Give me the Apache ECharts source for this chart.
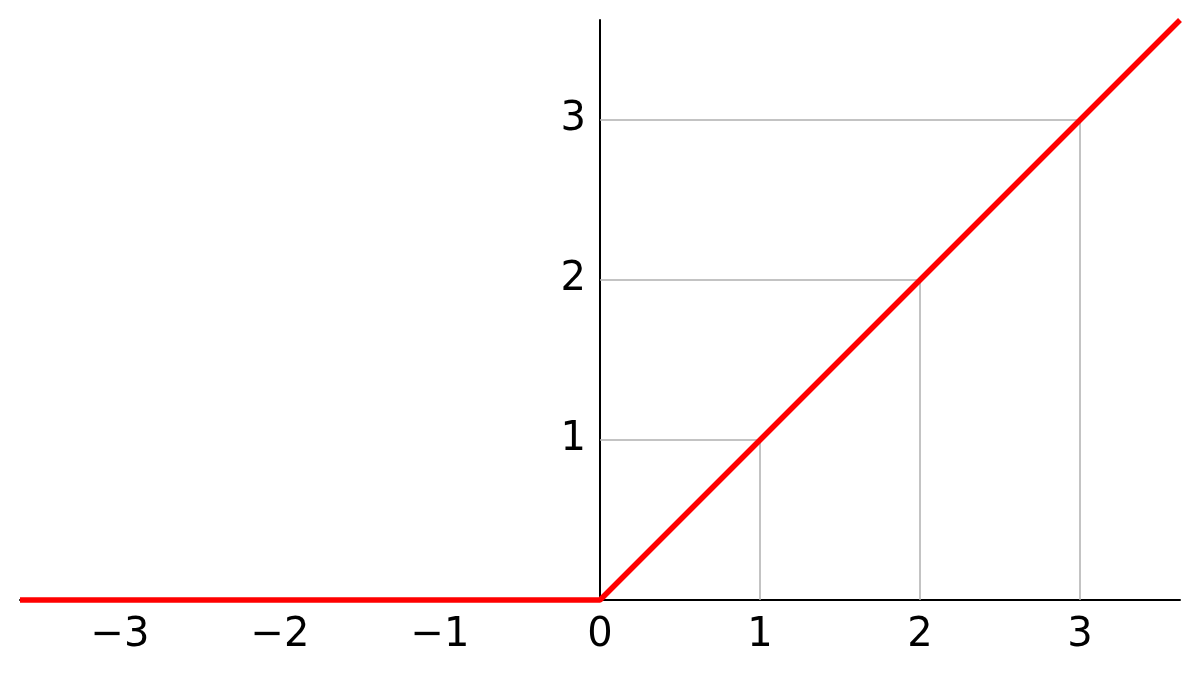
<!DOCTYPE html>
<html>
<head>
<meta charset="utf-8">
<style>html,body{margin:0;padding:0;background:#fff;}#c{width:1200px;height:680px;}</style>
<script src="https://cdn.jsdelivr.net/npm/echarts@6/dist/echarts.min.js"></script>
</head>
<body>
<div id="c"></div>
<script>
const reluX = [-3.625, 0, 3.625];
const reluY = [0, 0, 3.625];
const xTicks = [-3, -2, -1, 0, 1, 2, 3];
const yTicks = [1, 2, 3];
const dropPoints = [1, 2, 3];

const chart = echarts.init(document.getElementById('c'), null, {renderer: 'canvas'});
const font = {fontFamily: 'DejaVu Sans', fontSize: 40, color: '#000'};
const minus = v => String(v).replace('-', '\u2212');

const dropSeries = dropPoints.map(k => ({
  type: 'line',
  data: [[0, k], [k, k], [k, 0]],
  symbol: 'none',
  silent: true,
  z: 1,
  lineStyle: {color: '#b0b0b0', width: 1.5},
  clip: false
}));

chart.setOption({
  animation: false,
  backgroundColor: '#fff',
  grid: {left: 20, right: 20, top: 20, bottom: 80, containLabel: false, outerBoundsMode: 'none'},
  xAxis: {
    type: 'value', min: -3.625, max: 3.625,
    axisLine: {show: true, onZero: false, lineStyle: {color: '#000', width: 2}},
    axisTick: {show: false},
    splitLine: {show: false},
    axisLabel: Object.assign({customValues: xTicks, margin: 16, formatter: minus}, font)
  },
  yAxis: {
    type: 'value', min: 0, max: 3.625,
    position: 'left',
    offset: -580,
    axisLine: {show: true, onZero: false, lineStyle: {color: '#000', width: 2}},
    axisTick: {show: false},
    splitLine: {show: false},
    axisLabel: Object.assign({customValues: yTicks, margin: 14, padding: [5, 0, 0, 0], formatter: minus}, font)
  },
  series: dropSeries.concat([{
    type: 'line',
    data: reluX.map((x, i) => [x, reluY[i]]),
    symbol: 'none',
    z: 5,
    clip: false,
    lineStyle: {color: '#ff0000', width: 5.5}
  }])
});
</script>
</body>
</html>
